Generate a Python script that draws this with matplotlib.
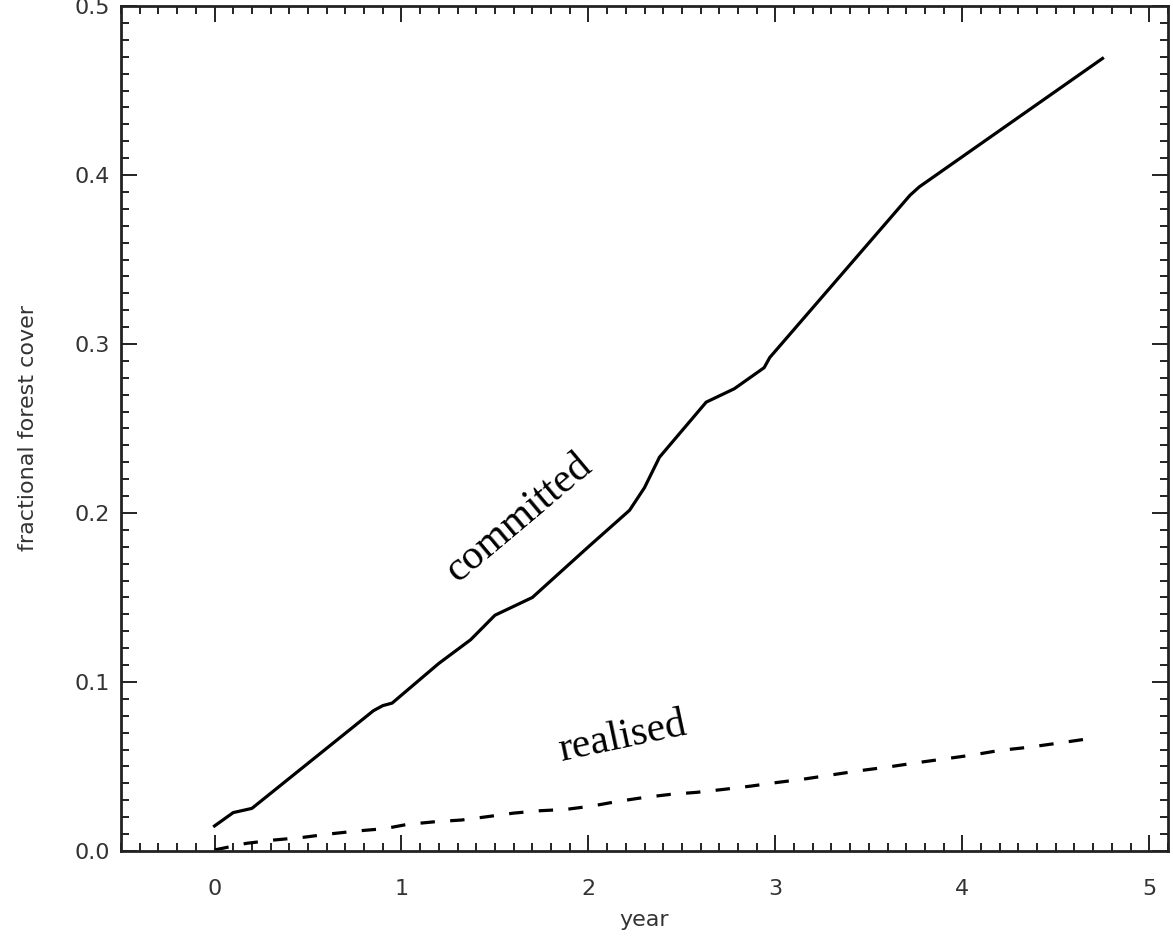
import numpy as np
import matplotlib
matplotlib.use("Agg")
import matplotlib.pyplot as plt
from matplotlib.ticker import MultipleLocator, FormatStrFormatter

# committed forest cover (solid)
committed_year = [0.0, 0.1, 0.2, 0.85, 0.9, 0.95, 1.2, 1.37, 1.5, 1.7, 1.73,
                  2.0, 2.22, 2.3, 2.38, 2.63, 2.78, 2.94, 2.97, 3.72, 3.77, 4.75]
committed_cover = [0.0148, 0.0227, 0.0252, 0.083, 0.086, 0.0875, 0.111, 0.125,
                   0.1395, 0.150, 0.153, 0.180, 0.2016, 0.215, 0.233, 0.2656,
                   0.2735, 0.286, 0.292, 0.388, 0.393, 0.469]

# realised forest cover (dashed)
realised_year = [0.0, 0.17, 0.32, 0.47, 0.61, 0.76, 0.91, 1.03, 1.18, 1.32,
                 1.46, 1.6, 1.74, 1.88, 2.02, 2.15, 2.3, 2.44, 2.58, 2.72,
                 2.87, 3.0, 3.15, 3.3, 3.45, 3.61, 3.755, 3.9, 4.05, 4.2,
                 4.35, 4.5, 4.65, 4.68]
realised_cover = [0.0006, 0.0045, 0.0065, 0.008, 0.010, 0.0118, 0.0132,
                  0.0157, 0.0173, 0.0183, 0.0203, 0.0224, 0.0238, 0.0246,
                  0.0266, 0.0292, 0.0317, 0.0335, 0.0347, 0.0364, 0.0384,
                  0.0404, 0.0425, 0.045, 0.0475, 0.0498, 0.0522, 0.0544,
                  0.0567, 0.0595, 0.0613, 0.0636, 0.066, 0.0672]

fig = plt.figure(figsize=(11.73, 9.43), dpi=100)
ax = fig.add_axes([0.1032, 0.0976, 0.8925, 0.896])

ax.plot(committed_year, committed_cover, color="black", lw=2.3)
ax.plot(realised_year, realised_cover, color="black", lw=2.3,
        dashes=(4.5, 4.8))

ax.set_xlim(-0.5, 5.1)
ax.set_ylim(0, 0.5)
ax.xaxis.set_major_locator(MultipleLocator(1))
ax.xaxis.set_minor_locator(MultipleLocator(0.1))
ax.yaxis.set_major_locator(MultipleLocator(0.1))
ax.yaxis.set_minor_locator(MultipleLocator(0.01))
ax.xaxis.set_major_formatter(FormatStrFormatter("%d"))
ax.yaxis.set_major_formatter(FormatStrFormatter("%.1f"))

ax.tick_params(which="both", direction="in", top=True, right=True,
               width=1.4, color="#222222", labelcolor="#333333", labelsize=16)
ax.tick_params(which="major", length=11.5)
ax.tick_params(which="minor", length=5.8)
ax.tick_params(axis="x", pad=20)
ax.tick_params(axis="y", pad=8)
for s in ax.spines.values():
    s.set_linewidth(2)
    s.set_color("#222222")

ax.set_xlabel("year", fontsize=16, color="#333333", labelpad=8)
ax.set_ylabel("fractional forest cover", fontsize=16, color="#333333",
              labelpad=26)

ax.text(1.63, 0.197, "committed", family="Liberation Serif", fontsize=30,
        rotation=40, ha="center", va="center")
ax.text(2.18, 0.067, "realised", family="Liberation Serif", fontsize=30,
        rotation=12, ha="center", va="center")

fig.savefig("out.png", dpi=100)
